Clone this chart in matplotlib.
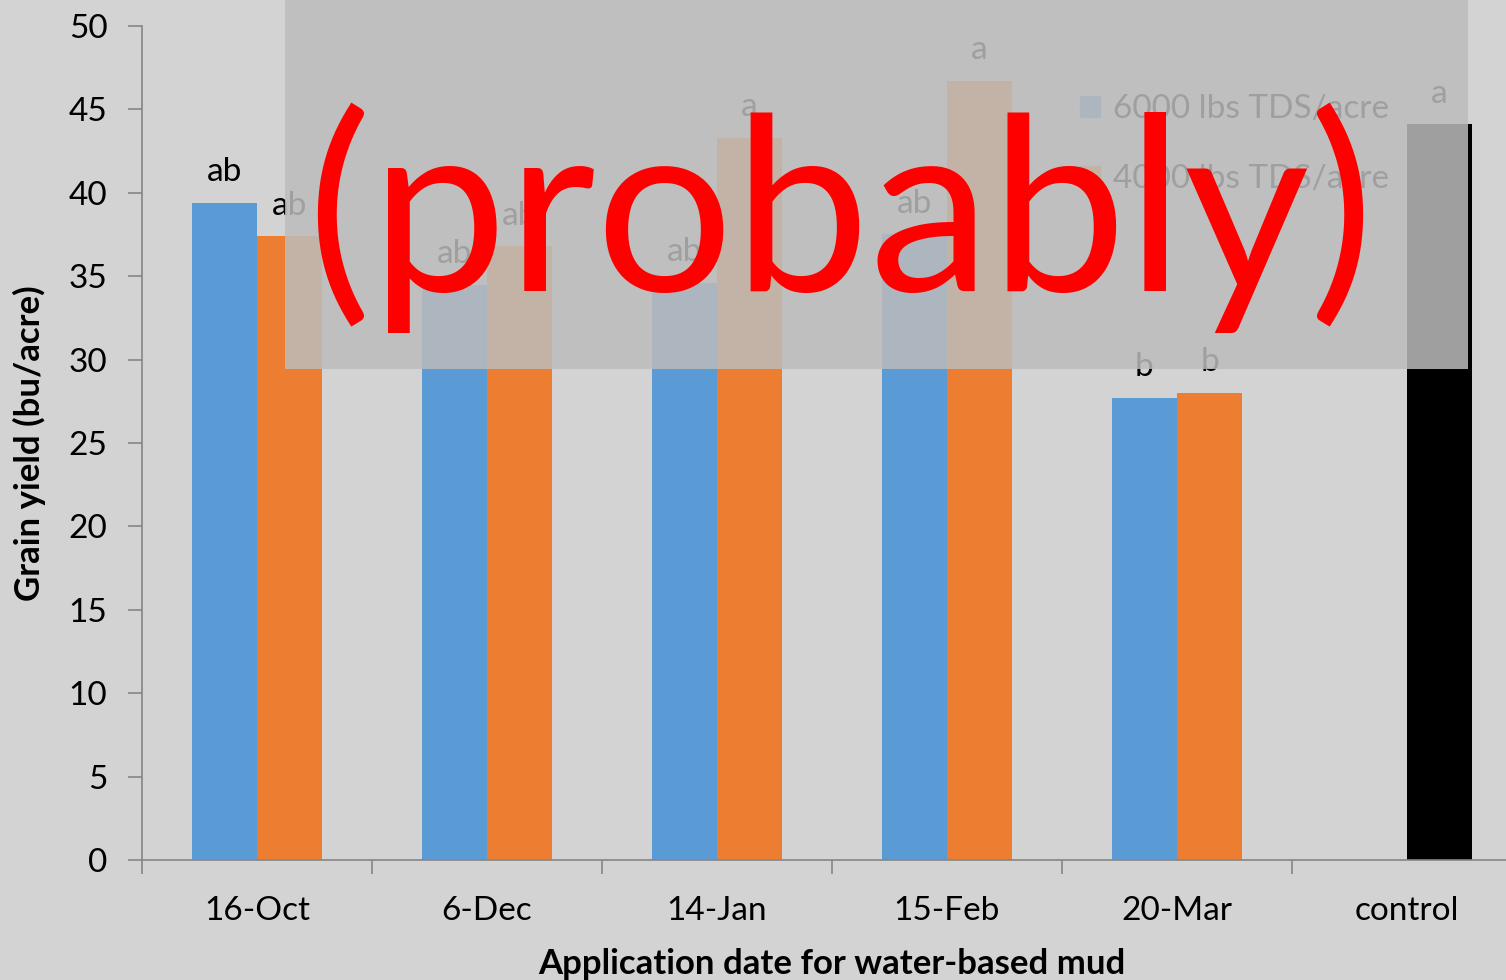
import numpy as np
import matplotlib.pyplot as plt
from matplotlib.patches import Rectangle

plt.rcParams['font.family'] = ['Lato', 'DejaVu Sans']

# Grain yield by application date
dates = ['16-Oct', '6-Dec', '14-Jan', '15-Feb', '20-Mar', 'control']
yield_6000 = [39.4, 34.5, 34.6, 37.5, 27.7, np.nan]
yield_4000 = [37.4, 36.8, 43.3, 46.7, 28.0, 44.1]
letters_6000 = ['ab', 'ab', 'ab', 'ab', 'b', '']
letters_4000 = ['ab', 'ab', 'a', 'a', 'b', 'a']
series_names = ['6000 lbs TDS/acre', '4000 lbs TDS/acre']

bg = '#d3d3d3'
axis_gray = '#868686'
W, H = 1506, 980

fig = plt.figure(figsize=(W / 100, H / 100), dpi=100, facecolor=bg)
# axes runs a bit past the right edge of the figure
ax = fig.add_axes([142 / W, 1 - 860 / H, (1522 - 142) / W, (860 - 26) / H])
ax.set_facecolor(bg)

x = np.arange(len(dates))
bw = 0.283
colors_4000 = ['#ed7d31'] * 5 + ['#000000']
ax.bar(x - bw / 2, yield_6000, bw, color='#5b9bd5', label=series_names[0])
ax.bar(x + bw / 2, yield_4000, bw, color=colors_4000, label=series_names[1])

for xi, v, s in zip(x - bw / 2, yield_6000, letters_6000):
    if s:
        ax.annotate(s, (xi, v), xytext=(0, 22), textcoords='offset points',
                    ha='center', va='center', fontsize=24, color='black')
for xi, v, s in zip(x + bw / 2, yield_4000, letters_4000):
    if s:
        ax.annotate(s, (xi, v), xytext=(0, 22), textcoords='offset points',
                    ha='center', va='center', fontsize=24, color='black')

ax.set_xlim(-0.5, len(dates) - 0.5)
ax.set_ylim(0, 50)
ax.set_yticks(np.arange(0, 51, 5))
ax.set_xticks(x)
ax.set_xticklabels(dates)
ax.set_xticks(np.arange(-0.5, len(dates), 1), minor=True)
ax.tick_params(axis='x', which='major', length=0, pad=26, labelsize=24)
ax.tick_params(axis='x', which='minor', length=10, color=axis_gray, width=1.2)
ax.tick_params(axis='y', length=10, color=axis_gray, width=1.2, pad=15, labelsize=24)

for side in ['top', 'right']:
    ax.spines[side].set_visible(False)
for side in ['left', 'bottom']:
    ax.spines[side].set_color(axis_gray)
    ax.spines[side].set_linewidth(1.2)

ax.set_ylabel('Grain yield (bu/acre)', fontsize=25, fontweight='bold', labelpad=16)
ax.set_xlabel('Application date for water-based mud', fontsize=25, fontweight='bold', labelpad=16)

leg_handles = [Rectangle((0, 0), 1, 1, color='#5b9bd5'), Rectangle((0, 0), 1, 1, color='#ed7d31')]
ax.legend(leg_handles, series_names, loc='upper left', frameon=False, fontsize=24,
          bbox_to_anchor=(1080 / W, 1 - 94 / H), bbox_transform=fig.transFigure,
          handlelength=0.6, handleheight=0.6, handletextpad=0.4, labelspacing=1.2,
          borderpad=0, borderaxespad=0)

# grey box over the upper part and the caption on top of it
fig.patches.append(Rectangle((285 / W, 1 - 369 / H), (1468 - 285) / W, 369 / H,
                             transform=fig.transFigure, facecolor='#bcbcbc',
                             alpha=0.85, edgecolor='none', zorder=10))
fig.text(840 / W, 1 - 218 / H, '(probably)', color='#ff0000', fontsize=175,
         ha='center', va='center', zorder=11)

fig.savefig('out.png', dpi=100, facecolor=bg)
